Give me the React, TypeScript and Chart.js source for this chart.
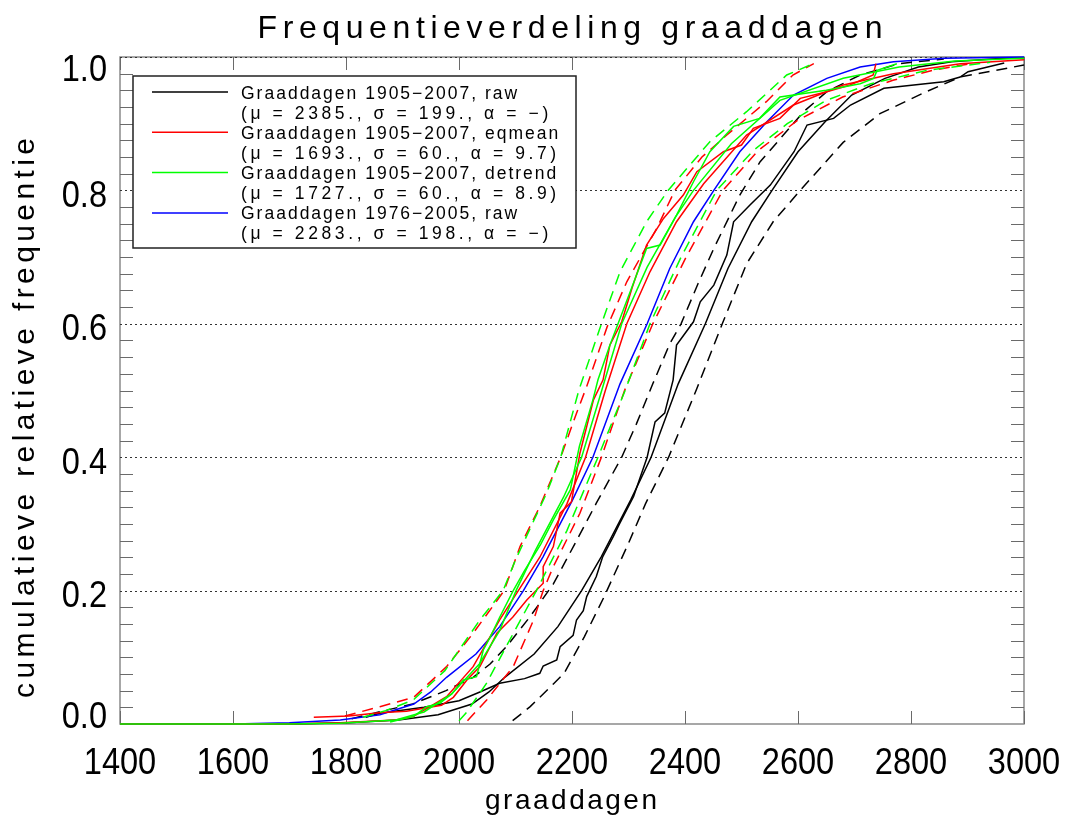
import React, { useEffect, useRef } from "react";
import { Chart, registerables } from "chart.js";

Chart.register(...registerables);

// ---------- texts ----------
const TITLE = "Frequentieverdeling graaddagen";
const X_TITLE = "graaddagen";
const Y_TITLE = "cumulatieve relatieve frequentie";
const X_TICKS = [1400, 1600, 1800, 2000, 2200, 2400, 2600, 2800, 3000];
const X_TICK_LABELS = ["1400", "1600", "1800", "2000", "2200", "2400", "2600", "2800", "3000"];
const Y_TICKS = [0, 0.2, 0.4, 0.6, 0.8, 1.0];
const Y_TICK_LABELS = ["0.0", "0.2", "0.4", "0.6", "0.8", "1.0"];
const LEGEND_LINE1 = [
  "Graaddagen 1905\u22122007, raw",
  "Graaddagen 1905\u22122007, eqmean",
  "Graaddagen 1905\u22122007, detrend",
  "Graaddagen 1976\u22122005, raw",
];
const LEGEND_LINE2 = [
  "(\u03bc = 2385., \u03c3 = 199., \u03b1 = \u2212)",
  "(\u03bc = 1693., \u03c3 = 60., \u03b1 = 9.7)",
  "(\u03bc = 1727., \u03c3 = 60., \u03b1 = 8.9)",
  "(\u03bc = 2283., \u03c3 = 198., \u03b1 = \u2212)",
];
const LEGEND_COLORS = ["#000000", "#ff0000", "#00ff00", "#0000ff"];

// ---------- series ----------
// black: 1905-2007 raw
const BLACK_EMP_X = [1835, 1860, 1938, 2000, 2037, 2072, 2116, 2143, 2149, 2173, 2179, 2202, 2208, 2220, 2226, 2243, 2254, 2273, 2284, 2309, 2333, 2347, 2364, 2379, 2385, 2415, 2427, 2451, 2474, 2486, 2515, 2551, 2593, 2616, 2663, 2693, 2752, 2858, 2887, 2901, 2965];
const BLACK_EMP_Y = [0.01, 0.016, 0.025, 0.035, 0.048, 0.061, 0.068, 0.076, 0.087, 0.096, 0.116, 0.133, 0.156, 0.17, 0.191, 0.221, 0.25, 0.281, 0.3, 0.341, 0.4, 0.453, 0.466, 0.516, 0.568, 0.603, 0.633, 0.658, 0.703, 0.753, 0.778, 0.808, 0.858, 0.898, 0.908, 0.928, 0.953, 0.963, 0.97, 0.978, 0.991];
const BLACK_FIT_X = [1400, 1703, 1803, 1893, 1963, 2023, 2053, 2081, 2133, 2175, 2217, 2252, 2304, 2340, 2388, 2436, 2476, 2518, 2554, 2600, 2648, 2695, 2754, 2813, 2872, 2963, 3000];
const BLACK_FIT_Y = [0, 0, 0.002, 0.006, 0.014, 0.03, 0.048, 0.07, 0.105, 0.146, 0.2, 0.251, 0.336, 0.4, 0.51, 0.6, 0.683, 0.753, 0.8, 0.858, 0.903, 0.943, 0.968, 0.985, 0.993, 0.998, 0.999];
const BLACK_LO_X = [1810, 1858, 1918, 1977, 2025, 2055, 2084, 2125, 2167, 2205, 2243, 2288, 2314, 2343, 2373, 2393, 2423, 2451, 2497, 2533, 2569, 2610, 2651, 2710, 2779, 2858];
const BLACK_LO_Y = [0.008, 0.018, 0.03, 0.05, 0.07, 0.09, 0.116, 0.16, 0.21, 0.27, 0.331, 0.4, 0.45, 0.51, 0.57, 0.6, 0.66, 0.713, 0.793, 0.843, 0.878, 0.918, 0.948, 0.973, 0.99, 0.997];
const BLACK_HI_X = [2095, 2126, 2167, 2186, 2222, 2257, 2300, 2330, 2371, 2421, 2466, 2509, 2556, 2604, 2680, 2745, 2827, 2887, 3000];
const BLACK_HI_Y = [0.005, 0.026, 0.06, 0.076, 0.131, 0.191, 0.271, 0.33, 0.4, 0.503, 0.6, 0.69, 0.753, 0.8, 0.872, 0.915, 0.948, 0.97, 0.988];

// red: 1905-2007 eqmean
const RED_EMP_X = [1743, 1805, 1859, 1907, 1969, 1990, 2014, 2037, 2055, 2067, 2095, 2120, 2149, 2149, 2167, 2179, 2199, 2214, 2238, 2255, 2267, 2288, 2306, 2332, 2362, 2397, 2421, 2468, 2500, 2521, 2568, 2604, 2651, 2692, 2733, 2735, 2738];
const RED_EMP_Y = [0.01, 0.012, 0.017, 0.019, 0.028, 0.04, 0.066, 0.086, 0.116, 0.136, 0.16, 0.186, 0.211, 0.236, 0.266, 0.316, 0.333, 0.406, 0.486, 0.516, 0.568, 0.603, 0.653, 0.718, 0.758, 0.793, 0.828, 0.858, 0.868, 0.893, 0.908, 0.938, 0.948, 0.958, 0.973, 0.98, 0.99];
const RED_FIT_X = [1400, 1700, 1790, 1888, 1919, 1978, 2025, 2072, 2105, 2143, 2191, 2224, 2259, 2297, 2338, 2385, 2433, 2509, 2592, 2680, 2769, 2887, 3000];
const RED_FIT_Y = [0, 0, 0.002, 0.006, 0.011, 0.041, 0.086, 0.156, 0.2, 0.25, 0.33, 0.4, 0.5, 0.6, 0.678, 0.753, 0.81, 0.883, 0.928, 0.958, 0.975, 0.99, 0.996];
const RED_LO_X = [1798, 1860, 1920, 1978, 2025, 2080, 2108, 2143, 2180, 2208, 2226, 2262, 2297, 2350, 2382, 2430, 2474, 2544, 2591, 2628];
const RED_LO_Y = [0.012, 0.026, 0.04, 0.086, 0.136, 0.2, 0.266, 0.326, 0.4, 0.466, 0.506, 0.595, 0.663, 0.743, 0.8, 0.85, 0.883, 0.933, 0.973, 0.99];
const RED_HI_X = [2015, 2049, 2096, 2132, 2149, 2167, 2214, 2252, 2293, 2343, 2402, 2467, 2530, 2599, 2679, 2768, 2838, 2905];
const RED_HI_Y = [0.005, 0.036, 0.086, 0.156, 0.2, 0.236, 0.316, 0.4, 0.5, 0.6, 0.7, 0.8, 0.86, 0.905, 0.94, 0.965, 0.98, 0.99];

// green: 1905-2007 detrend
const GREEN_EMP_X = [1878, 1919, 1943, 1966, 1987, 2008, 2031, 2043, 2055, 2072, 2096, 2116, 2145, 2167, 2197, 2213, 2237, 2246, 2267, 2303, 2332, 2356, 2385, 2415, 2444, 2486, 2532, 2568, 2650, 2710, 2734, 2740, 2775];
const GREEN_EMP_Y = [0.003, 0.011, 0.026, 0.031, 0.045, 0.066, 0.071, 0.111, 0.13, 0.16, 0.2, 0.23, 0.27, 0.306, 0.351, 0.416, 0.486, 0.516, 0.568, 0.648, 0.713, 0.718, 0.763, 0.813, 0.858, 0.896, 0.908, 0.94, 0.95, 0.96, 0.968, 0.98, 0.99];
const GREEN_FIT_X = [1400, 1700, 1789, 1888, 1938, 1987, 2036, 2072, 2101, 2135, 2185, 2217, 2249, 2288, 2333, 2383, 2415, 2482, 2568, 2680, 2779, 2878, 3000];
const GREEN_FIT_Y = [0, 0, 0.001, 0.006, 0.018, 0.045, 0.09, 0.14, 0.2, 0.26, 0.34, 0.4, 0.49, 0.6, 0.685, 0.76, 0.8, 0.87, 0.935, 0.968, 0.985, 0.994, 0.998];
const GREEN_LO_X = [1830, 1870, 1919, 1975, 2037, 2078, 2100, 2155, 2180, 2212, 2248, 2285, 2332, 2370, 2444, 2509, 2580, 2627];
const GREEN_LO_Y = [0.01, 0.02, 0.036, 0.08, 0.156, 0.2, 0.246, 0.346, 0.4, 0.5, 0.59, 0.678, 0.753, 0.8, 0.873, 0.918, 0.973, 0.99];
const GREEN_HI_X = [2000, 2012, 2048, 2086, 2137, 2191, 2246, 2294, 2338, 2393, 2456, 2521, 2581, 2650, 2729, 2828, 2940];
const GREEN_HI_Y = [0.005, 0.016, 0.06, 0.12, 0.2, 0.29, 0.4, 0.5, 0.6, 0.7, 0.8, 0.86, 0.9, 0.935, 0.96, 0.98, 0.992];

// blue: 1976-2005 raw
const BLUE_FIT_X = [1400, 1600, 1700, 1790, 1860, 1920, 1950, 1978, 2030, 2072, 2114, 2149, 2201, 2237, 2285, 2333, 2373, 2415, 2451, 2497, 2545, 2592, 2651, 2710, 2769, 2860, 3000];
const BLUE_FIT_Y = [0, 0, 0.002, 0.006, 0.014, 0.03, 0.048, 0.07, 0.105, 0.146, 0.2, 0.251, 0.336, 0.4, 0.51, 0.6, 0.683, 0.753, 0.8, 0.858, 0.903, 0.943, 0.968, 0.985, 0.993, 0.998, 1.0];

const FONT = '"Liberation Sans", Arial, sans-serif';
const DASH = [11, 7];

function pts(xs: number[], ys: number[]) {
  return xs.map((x, i) => ({ x, y: ys[i] }));
}

function ds(xs: number[], ys: number[], color: string, dashed: boolean) {
  return {
    data: pts(xs, ys),
    borderColor: color,
    backgroundColor: color,
    borderWidth: 1.5,
    borderDash: dashed ? DASH : [],
    pointRadius: 0,
    fill: false,
    tension: 0,
    clip: 3,
  };
}

function drawText(
  ctx: CanvasRenderingContext2D,
  text: string,
  x: number,
  y: number,
  size: number,
  spacing: number,
  scaleX: number,
  align: "left" | "center" | "right",
  rotate = false
) {
  ctx.save();
  ctx.font = `${size}px ${FONT}`;
  (ctx as any).letterSpacing = `${spacing}px`;
  ctx.textAlign = "left";
  ctx.textBaseline = "alphabetic";
  const w = (ctx.measureText(text).width - spacing) * scaleX;
  ctx.translate(x, y);
  if (rotate) ctx.rotate(-Math.PI / 2);
  const off = align === "left" ? 0 : align === "center" ? -w / 2 : -w;
  ctx.translate(off, 0);
  ctx.scale(scaleX, 1);
  ctx.fillStyle = "#000";
  ctx.fillText(text, 0, 0);
  ctx.restore();
}

const idlPlugin = {
  id: "idlFrame",
  beforeDatasetsDraw(chart: any) {
    const { ctx, chartArea: a, scales } = chart;
    const x = scales.x;
    const y = scales.y;
    ctx.save();
    // frame
    ctx.strokeStyle = "#8a8a8a";
    ctx.lineWidth = 1.5;
    ctx.strokeRect(a.left, a.top, a.right - a.left, a.bottom - a.top);
    // minor y ticks, both sides
    ctx.strokeStyle = "#6a6a6a";
    ctx.lineWidth = 1;
    for (let i = 1; i < 40; i++) {
      if (i % 8 === 0) continue;
      const py = Math.round(y.getPixelForValue(i * 0.025)) + 0.5;
      ctx.beginPath();
      ctx.moveTo(a.left, py);
      ctx.lineTo(a.left + 13, py);
      ctx.moveTo(a.right, py);
      ctx.lineTo(a.right - 13, py);
      ctx.stroke();
    }
    // x major ticks, bottom and top
    for (const v of X_TICKS) {
      const px = Math.round(x.getPixelForValue(v)) + 0.5;
      ctx.beginPath();
      ctx.moveTo(px, a.bottom);
      ctx.lineTo(px, a.bottom - 13);
      ctx.moveTo(px, a.top);
      ctx.lineTo(px, a.top + 13);
      ctx.stroke();
    }
    // dotted grid at major y values
    ctx.strokeStyle = "#333";
    ctx.lineWidth = 1;
    ctx.setLineDash([2, 3]);
    for (const v of Y_TICKS) {
      if (v === 0) continue;
      const py = Math.round(y.getPixelForValue(v)) + 0.5;
      ctx.beginPath();
      ctx.moveTo(a.left, py);
      ctx.lineTo(a.right, py);
      ctx.stroke();
    }
    ctx.restore();
  },
  afterDraw(chart: any) {
    const { ctx, chartArea: a, scales } = chart;
    const x = scales.x;
    const y = scales.y;
    const cx = (a.left + a.right) / 2;
    // title
    drawText(ctx, TITLE, cx - 2, 38, 32, 5.6, 1, "center");
    // x tick labels
    X_TICKS.forEach((v, i) => {
      drawText(ctx, X_TICK_LABELS[i], x.getPixelForValue(v), a.bottom + 49.5, 37, 0, 0.88, "center");
    });
    // y tick labels
    Y_TICKS.forEach((v, i) => {
      let c = y.getPixelForValue(v) + 3;
      if (i === 0) c = y.getPixelForValue(v) - 9;
      if (i === Y_TICKS.length - 1) c = y.getPixelForValue(v) + 11;
      drawText(ctx, Y_TICK_LABELS[i], a.left - 13, c + 13.3, 37, 0, 0.88, "right");
    });
    // axis titles
    drawText(ctx, X_TITLE, cx - 1, 809, 28, 2.5, 1, "center");
    drawText(ctx, Y_TITLE, 34, 418, 30, 4.4, 1, "center", true);
    // legend
    const bx = a.left + 13;
    const by = a.top + 19;
    const bw = 443;
    const bh = 172;
    ctx.save();
    ctx.fillStyle = "#fff";
    ctx.fillRect(bx, by, bw, bh);
    ctx.strokeStyle = "#222";
    ctx.lineWidth = 1.5;
    ctx.strokeRect(bx, by, bw, bh);
    ctx.restore();
    LEGEND_LINE1.forEach((t, i) => {
      const ly = by + 16 + i * 40.3;
      ctx.save();
      ctx.strokeStyle = LEGEND_COLORS[i];
      ctx.lineWidth = 1.5;
      ctx.beginPath();
      ctx.moveTo(bx + 19, ly);
      ctx.lineTo(bx + 95, ly);
      ctx.stroke();
      ctx.restore();
      drawText(ctx, t, bx + 108, ly + 6.5, 17.5, 2.0, 1, "left");
      drawText(ctx, LEGEND_LINE2[i], bx + 108, ly + 26.5, 17.5, 3.6, 1, "left");
    });
  },
};

export default function App() {
  const ref = useRef<HTMLCanvasElement | null>(null);
  useEffect(() => {
    if (!ref.current) return;
    const chart = new Chart(ref.current, {
      type: "line",
      data: {
        datasets: [
          ds(GREEN_EMP_X, GREEN_EMP_Y, "#00ff00", false),
          ds(GREEN_FIT_X, GREEN_FIT_Y, "#00ff00", false),
          ds(GREEN_LO_X, GREEN_LO_Y, "#00ff00", true),
          ds(GREEN_HI_X, GREEN_HI_Y, "#00ff00", true),
          ds(RED_EMP_X, RED_EMP_Y, "#ff0000", false),
          ds(RED_FIT_X, RED_FIT_Y, "#ff0000", false),
          ds(RED_LO_X, RED_LO_Y, "#ff0000", true),
          ds(RED_HI_X, RED_HI_Y, "#ff0000", true),
          ds(BLUE_FIT_X, BLUE_FIT_Y, "#0000ff", false),
          ds(BLACK_EMP_X, BLACK_EMP_Y, "#000000", false),
          ds(BLACK_FIT_X, BLACK_FIT_Y, "#000000", false),
          ds(BLACK_LO_X, BLACK_LO_Y, "#000000", true),
          ds(BLACK_HI_X, BLACK_HI_Y, "#000000", true),
        ] as any,
      },
      options: {
        animation: false,
        responsive: false,
        layout: { padding: { left: 120, right: 43, top: 57, bottom: 94 } },
        plugins: {
          legend: { display: false },
          title: { display: false },
          tooltip: { enabled: false },
        },
        scales: {
          x: { type: "linear", min: 1400, max: 3000, display: false },
          y: { type: "linear", min: 0, max: 1, display: false },
        },
      },
      plugins: [idlPlugin],
    });
    return () => chart.destroy();
  }, []);
  return (
    <div style={{ position: "fixed", left: 0, top: 0, width: 1067, height: 818, background: "#fff" }}>
      <canvas ref={ref} width={1067} height={818} style={{ width: 1067, height: 818, display: "block" }} />
    </div>
  );
}
